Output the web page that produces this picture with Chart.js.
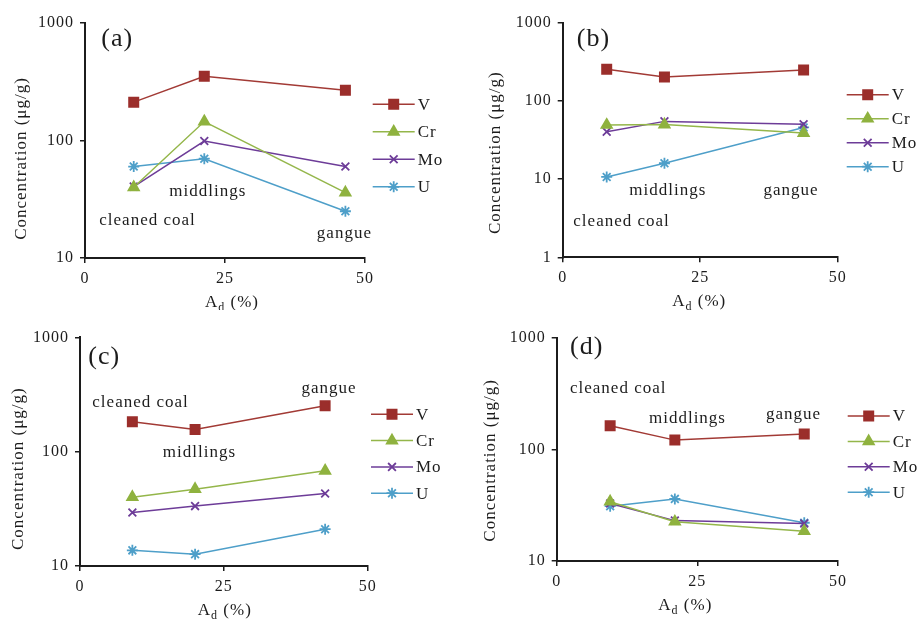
<!DOCTYPE html>
<html>
<head>
<meta charset="utf-8">
<script src="https://cdn.jsdelivr.net/npm/chart.js@4.4.1/dist/chart.umd.min.js"></script>
<style>
html, body { margin: 0; padding: 0; background: #fff; }
#wrap { position: relative; width: 919px; height: 619px; }
canvas { position: absolute; }
</style>
</head>
<body>
<div id="wrap">
  <canvas id="pa" width="460" height="310" style="left:0;top:0"></canvas>
  <canvas id="pb" width="459" height="310" style="left:460px;top:0"></canvas>
  <canvas id="pc" width="460" height="309" style="left:0;top:310px"></canvas>
  <canvas id="pd" width="459" height="309" style="left:460px;top:310px"></canvas>
</div>
<script>
// elements and products
const elements = ['V', 'Cr', 'Mo', 'U'];
const products = ['cleaned coal', 'middlings', 'gangue'];
const productsC = ['cleaned coal', 'midllings', 'gangue'];

// tick values
const xTicks = [0, 25, 50];
const yTicks3 = [10, 100, 1000];
const yTicks4 = [1, 10, 100, 1000];

// (a) ash yield Ad (%) and concentrations (ug/g)
const ashA = [8.7, 21.3, 46.5];
const vA = [212, 352, 268];
const crA = [40, 145, 36];
const moA = [40.5, 99, 60];
const uA = [60, 70, 25];

// (b)
const ashB = [8.0, 18.5, 43.8];
const vB = [255, 203, 250];
const crB = [49.5, 50, 39];
const moB = [40.5, 55, 50.5];
const uB = [10.7, 16, 46];

// (c)
const ashC = [9.1, 20.0, 42.6];
const vC = [183, 156, 252];
const crC = [40, 47, 68];
const moC = [29.4, 33.4, 43];
const uC = [13.7, 12.7, 21];

// (d)
const ashD = [9.5, 21.0, 44.0];
const vD = [163, 121, 137];
const crD = [34, 22.5, 18.5];
const moD = [32.7, 23, 21.7];
const uD = [31, 36, 22];

// where the product names sit, in data units [Ad, concentration]
const noteAtA = [[2.55, 21], [15.05, 36.6], [41.4, 16.2]];
const noteAtB = [[1.93, 2.84], [12.1, 7.08], [36.5, 7.08]];
const noteAtC = [[2.14, 270], [14.4, 97.7], [38.5, 358]];
const noteAtD = [[2.36, 352], [16.4, 187], [37.2, 206]];

const ink = '#1c1c1c';
const serif = '"Liberation Serif", "Times New Roman", serif';
const styles = [
  { color: '#a23a35', fill: '#9b2e2b', point: 'rect', radius: 6.5 },
  { color: '#94b64a', fill: '#8fb23f', point: 'triangle', radius: 6 },
  { color: '#6d3c98', fill: '#6d3c98', point: 'crossRot', radius: 5.5 },
  { color: '#4e9fc9', fill: '#4e9fc9', point: 'star', radius: 5.5 }
];

const overlay = {
  id: 'overlay',
  beforeDraw(chart) {
    chart.ctx.letterSpacing = '1px';
  },
  afterDraw(chart) {
    const o = chart.options.plugins.overlay;
    const ctx = chart.ctx, xs = chart.scales.x, ys = chart.scales.y, a = chart.chartArea;
    ctx.save();
    ctx.letterSpacing = '1px';
    ctx.fillStyle = ink;
    ctx.textAlign = 'left';
    ctx.textBaseline = 'middle';

    // panel tag
    ctx.font = '26px ' + serif;
    ctx.fillText(o.tag, xs.getPixelForValue(o.tagAt[0]), ys.getPixelForValue(o.tagAt[1]));

    // product names
    ctx.font = '17px ' + serif;
    o.names.forEach((t, i) => {
      ctx.fillText(t, xs.getPixelForValue(o.noteAt[i][0]), ys.getPixelForValue(o.noteAt[i][1]));
    });

    // legend: line with marker, then name
    chart.data.datasets.forEach((ds, i) => {
      const lx = a.right + o.legend[0];
      const ly = a.top + o.legend[1] + i * o.legend[2];
      ctx.strokeStyle = ds.borderColor;
      ctx.lineWidth = 1.5;
      ctx.beginPath();
      ctx.moveTo(lx, ly);
      ctx.lineTo(lx + 42, ly);
      ctx.stroke();
      ctx.fillStyle = ds.pointBackgroundColor;
      ctx.strokeStyle = ds.pointBorderColor;
      ctx.lineWidth = ds.pointBorderWidth;
      Chart.helpers.drawPoint(ctx, { pointStyle: ds.pointStyle, radius: ds.pointRadius, rotation: 0, borderWidth: ds.pointBorderWidth }, lx + 21, ly);
      ctx.fillStyle = ink;
      ctx.fillText(ds.label, lx + 45, ly + 1);
    });

    // y title
    ctx.save();
    ctx.translate(a.left + o.yTitle[0], (a.top + a.bottom) / 2 + o.yTitle[1]);
    ctx.rotate(-Math.PI / 2);
    ctx.textAlign = 'center';
    ctx.fillText('Concentration (\u03bcg/g)', 0, 0);
    ctx.restore();

    // x title with subscript d
    ctx.textBaseline = 'alphabetic';
    const big = '17px ' + serif, small = '12px ' + serif;
    ctx.font = big;
    const wA = ctx.measureText('A').width, wP = ctx.measureText(' (%)').width;
    ctx.font = small;
    const wD = ctx.measureText('d').width;
    let x = (a.left + a.right) / 2 + o.xTitleDx - (wA + wD + wP) / 2;
    const base = a.bottom + 49;
    ctx.font = big; ctx.fillText('A', x, base); x += wA;
    ctx.font = small; ctx.fillText('d', x, base + 4); x += wD;
    ctx.font = big; ctx.fillText(' (%)', x, base);
    ctx.restore();
  }
};

function series(ash, vals) {
  return vals.map((v, i) => ({ x: ash[i], y: v }));
}

function panel(id, ash, cols, yMin, yTicks, box, extra) {
  const cv = document.getElementById(id);
  const W = cv.width, H = cv.height;
  new Chart(cv, {
    type: 'line',
    data: {
      datasets: cols.map((vals, i) => ({
        label: elements[i],
        data: series(ash, vals),
        borderColor: styles[i].color,
        borderWidth: 1.5,
        pointStyle: styles[i].point,
        pointRadius: styles[i].radius,
        pointBackgroundColor: styles[i].fill,
        pointBorderColor: styles[i].fill,
        pointBorderWidth: 1.8,
        tension: 0
      }))
    },
    options: {
      responsive: false,
      animation: false,
      devicePixelRatio: 1,
      layout: { padding: { top: box.T, right: W - box.R, bottom: 0, left: 0 } },
      plugins: {
        legend: { display: false },
        tooltip: { enabled: false },
        overlay: extra
      },
      scales: {
        x: {
          type: 'linear', min: 0, max: 50,
          afterBuildTicks: s => { s.ticks = xTicks.map(v => ({ value: v })); },
          afterFit: s => { s.height = H - box.B; },
          ticks: { color: ink, font: { family: serif, size: 16 }, padding: 6, autoSkip: false, maxRotation: 0 },
          grid: { display: true, drawOnChartArea: false, drawTicks: true, tickLength: 5, color: ink, lineWidth: 1.5 },
          border: { display: true, color: ink, width: 2 }
        },
        y: {
          type: 'logarithmic', min: yMin, max: 1000,
          afterBuildTicks: s => { s.ticks = yTicks.map(v => ({ value: v })); },
          afterFit: s => { s.width = box.L; },
          ticks: { color: ink, font: { family: serif, size: 16 }, padding: 6, autoSkip: false, callback: v => String(v) },
          grid: { display: true, drawOnChartArea: false, drawTicks: true, tickLength: 5, color: ink, lineWidth: 1.5 },
          border: { display: true, color: ink, width: 2 }
        }
      }
    },
    plugins: [overlay]
  });
}

panel('pa', ashA, [vA, crA, moA, uA], 10, yTicks3,
  { L: 85, T: 23, R: 365, B: 258 },
  { tag: '(a)', tagAt: [2.9, 730], names: products, noteAt: noteAtA,
    legend: [7.7, 81.3, 27.5], yTitle: [-63, 18], xTitleDx: 7 });

panel('pb', ashB, [vB, crB, moB, uB], 1, yTicks4,
  { L: 102.7, T: 23, R: 377.7, B: 257.3 },
  { tag: '(b)', tagAt: [2.55, 624], names: products, noteAt: noteAtB,
    legend: [9, 71.7, 24], yTitle: [-67, 12.5], xTitleDx: -1 });

panel('pc', ashC, [vC, crC, moC, uC], 10, yTicks3,
  { L: 80, T: 27.3, R: 367.7, B: 256 },
  { tag: '(c)', tagAt: [1.44, 676], names: productsC, noteAt: noteAtC,
    legend: [3.3, 77, 26.3], yTitle: [-61, 17], xTitleDx: 1 });

panel('pd', ashD, [vD, crD, moD, uD], 10, yTicks3,
  { L: 96.7, T: 27.7, R: 378, B: 251 },
  { tag: '(d)', tagAt: [2.36, 831], names: products, noteAt: noteAtD,
    legend: [9.7, 78.3, 25.4], yTitle: [-66, 11], xTitleDx: -12 });
</script>
</body>
</html>
